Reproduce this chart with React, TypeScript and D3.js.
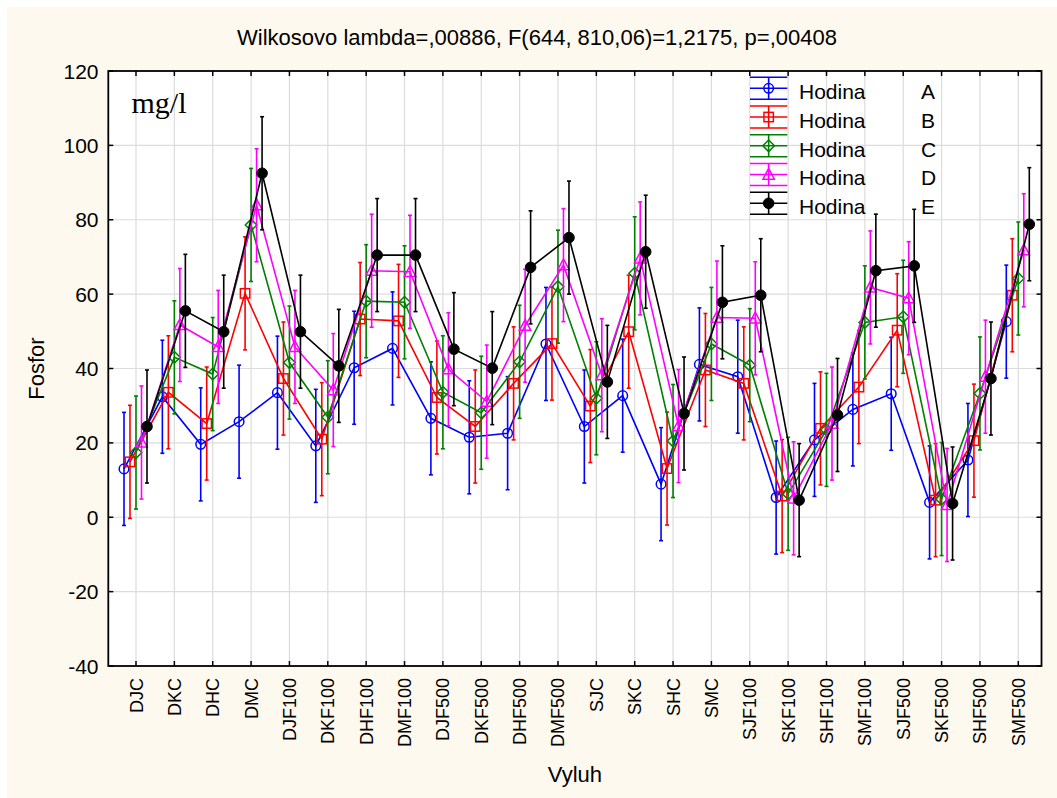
import React from "react";
import * as d3 from "d3";

const categories = ["DJC","DKC","DHC","DMC","DJF100","DKF100","DHF100","DMF100","DJF500","DKF500","DHF500","DMF500","SJC","SKC","SHC","SMC","SJF100","SKF100","SHF100","SMF100","SJF500","SKF500","SHF500","SMF500"];
const hodinaA = [13.0,32.4,19.6,25.7,33.5,19.2,40.2,45.4,26.6,21.5,22.6,46.6,24.4,32.7,8.9,41.1,37.8,5.3,20.8,29.0,33.2,4.0,15.4,52.6];
const hodinaB = [14.9,33.6,25.2,60.2,37.3,21.0,53.3,52.8,32.2,24.4,36.0,46.7,29.9,49.9,13.1,39.6,36.0,5.7,23.9,35.0,50.3,4.6,20.6,59.7];
const hodinaC = [17.4,43.0,38.5,78.6,41.6,26.9,58.1,57.8,33.6,28.1,41.8,62.0,32.0,65.6,20.5,46.6,40.9,6.3,23.5,52.4,53.9,4.9,33.3,64.2];
const hodinaD = [20.1,51.7,45.8,83.9,45.8,34.2,66.3,66.0,39.8,31.1,51.5,67.8,38.2,69.6,24.5,53.7,53.5,5.1,25.2,61.8,58.9,3.3,37.8,71.8];
const hodinaE = [24.4,55.5,49.9,92.5,49.9,40.7,70.5,70.5,45.2,40.1,67.2,75.2,36.4,71.4,27.9,57.8,59.7,4.6,27.5,66.3,67.6,3.7,37.3,78.8];
const ciHalf = 15.2;
const seriesLabels = ["A","B","C","D","E"];
const yTicks = [-40,-20,0,20,40,60,80,100,120];
const title = "Wilkosovo lambda=,00886, F(644, 810,06)=1,2175, p=,00408";

const seriesValues = [hodinaA, hodinaB, hodinaC, hodinaD, hodinaE];
const colors = ["#0000FF","#FF0000","#008000","#FF00FF","#000000"];
const shapes = ["circle","square","diamond","triangle","dot"];
const offsets = [-12,-6,0,5.5,11];

const L = 108.3, R = 1041.5, T = 71, B = 666;
const FONT = "'Liberation Sans', Arial, sans-serif";

function Marker({ shape, x, y, color }: { shape: string; x: number; y: number; color: string }) {
  const sw = 1.5;
  if (shape === "circle") return <circle cx={x} cy={y} r={4.8} fill="none" stroke={color} strokeWidth={sw} />;
  if (shape === "square") return <rect x={x - 4.7} y={y - 4.7} width={9.4} height={9.4} fill="none" stroke={color} strokeWidth={sw} />;
  if (shape === "diamond") return <path d={`M${x},${y - 5.8}L${x + 5.8},${y}L${x},${y + 5.8}L${x - 5.8},${y}Z`} fill="none" stroke={color} strokeWidth={sw} />;
  if (shape === "triangle") return <path d={`M${x},${y - 6.2}L${x + 5.7},${y + 4.6}L${x - 5.7},${y + 4.6}Z`} fill="none" stroke={color} strokeWidth={sw} />;
  return <circle cx={x} cy={y} r={5.3} fill={color} stroke={color} strokeWidth={1} />;
}

export default function App() {
  const x = d3.scalePoint<string>().domain(categories).range([136, 1018.3]);
  const y = d3.scaleLinear().domain([-40, 120]).range([B, T]);
  const line = d3.line<[number, number]>().x(d => d[0]).y(d => d[1]);

  const legendX0 = 750, legendX1 = 787.3, legendY0 = 88.3, legendStep = 28.75;

  return (
    <svg width={1057} height={798} style={{ position: "absolute", left: 0, top: 0 }} fontFamily={FONT}>
      <rect x={0} y={0} width={1057} height={798} fill="#ffffff" />
      <rect x={7} y={7} width={1050} height={791} fill="#FEF9EE" />
      <rect x={L} y={T} width={R - L} height={B - T} fill="#ffffff" />
      {/* grid */}
      {categories.map(c => (
        <line key={"gx" + c} x1={x(c)} x2={x(c)} y1={T} y2={B} stroke="#dcdcdc" strokeWidth={1.2} />
      ))}
      {yTicks.slice(1, -1).map(t => (
        <line key={"gy" + t} x1={L} x2={R} y1={y(t)} y2={y(t)} stroke="#dcdcdc" strokeWidth={1.2} />
      ))}
      {/* series */}
      {seriesValues.map((vals, si) => {
        const pts: [number, number][] = vals.map((v, i) => [(x(categories[i]) as number) + offsets[si], y(v)]);
        const col = colors[si];
        return (
          <g key={"s" + si}>
            {vals.map((v, i) => {
              const px = pts[i][0];
              return (
                <g key={"e" + i}>
                  <line x1={px} x2={px} y1={y(v + ciHalf)} y2={y(v - ciHalf)} stroke={col} strokeWidth={1.6} />
                  <line x1={px - 2} x2={px + 2} y1={y(v + ciHalf)} y2={y(v + ciHalf)} stroke={col} strokeWidth={1.6} />
                  <line x1={px - 2} x2={px + 2} y1={y(v - ciHalf)} y2={y(v - ciHalf)} stroke={col} strokeWidth={1.6} />
                </g>
              );
            })}
            <path d={line(pts) || ""} fill="none" stroke={col} strokeWidth={1.6} />
            {pts.map((p, i) => <Marker key={"m" + i} shape={shapes[si]} x={p[0]} y={p[1]} color={col} />)}
          </g>
        );
      })}
      {/* frame */}
      <rect x={L} y={T} width={R - L} height={B - T} fill="none" stroke="#000" strokeWidth={1.8} />
      {categories.map(c => (
        <g key={"tx" + c}>
          <line x1={x(c)} x2={x(c)} y1={B} y2={B - 5} stroke="#000" strokeWidth={1.5} />
          <line x1={x(c)} x2={x(c)} y1={T} y2={T + 5} stroke="#000" strokeWidth={1.5} />
          <text transform={`translate(${(x(c) as number) + 6.5},${B + 12}) rotate(-90)`} textAnchor="end" fontSize={18} fill="#000">{c}</text>
        </g>
      ))}
      {yTicks.map(t => (
        <g key={"ty" + t}>
          <line x1={L} x2={L + 5} y1={y(t)} y2={y(t)} stroke="#000" strokeWidth={1.5} />
          <line x1={R} x2={R - 5} y1={y(t)} y2={y(t)} stroke="#000" strokeWidth={1.5} />
          <text x={98.5} y={y(t) + 7.5} textAnchor="end" fontSize={21} fill="#000">{t}</text>
        </g>
      ))}
      {/* titles */}
      <text x={537} y={45} textAnchor="middle" fontSize={22} fill="#000">{title}</text>
      <text x={(L + R) / 2} y={782} textAnchor="middle" fontSize={22} fill="#000">Vyluh</text>
      <text transform={`translate(43.5,${(T + B) / 2}) rotate(-90)`} textAnchor="middle" fontSize={22} fill="#000">Fosfor</text>
      <text x={131.5} y={113} fontSize={30} fontFamily="'Liberation Serif', 'Times New Roman', serif" fill="#000">mg/l</text>
      {/* legend */}
      {seriesLabels.map((lab, si) => {
        const cy = legendY0 + si * legendStep;
        const cx = (legendX0 + legendX1) / 2;
        const col = colors[si];
        return (
          <g key={"lg" + si}>
            <line x1={legendX0} x2={legendX1} y1={cy} y2={cy} stroke={col} strokeWidth={1.6} />
            <line x1={legendX0} x2={legendX1} y1={cy - 11} y2={cy - 11} stroke={col} strokeWidth={1.6} />
            <line x1={legendX0} x2={legendX1} y1={cy + 11} y2={cy + 11} stroke={col} strokeWidth={1.6} />
            <line x1={cx} x2={cx} y1={cy - 11} y2={cy + 11} stroke={col} strokeWidth={1.6} />
            <Marker shape={shapes[si]} x={cx} y={cy} color={col} />
            <text x={799} y={cy + 10.7} fontSize={21} fill="#000">Hodina</text>
            <text x={921} y={cy + 10.7} fontSize={21} fill="#000">{lab}</text>
          </g>
        );
      })}
    </svg>
  );
}
